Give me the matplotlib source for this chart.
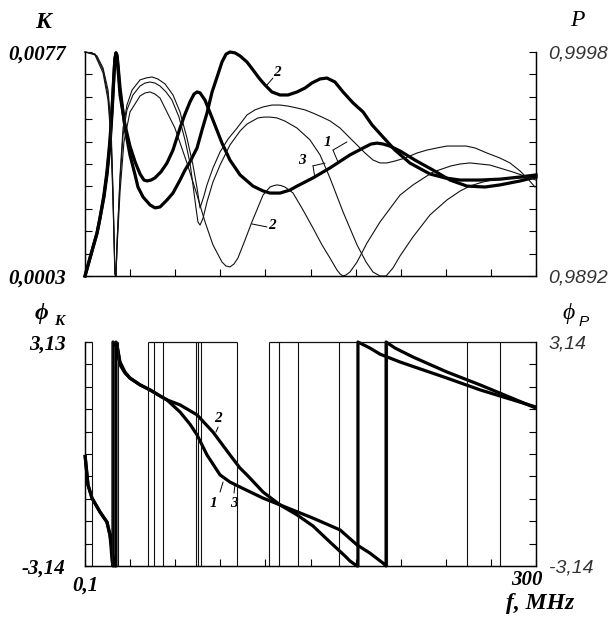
import numpy as np
import matplotlib.pyplot as plt

serif = ['Liberation Serif', 'DejaVu Serif']
sans = ['Liberation Sans', 'DejaVu Sans']

# ---- top panel: K (thick, left axis) and P (thin, right axis) vs f, MHz
f_k2 = [0.1, 3.4, 8.1, 10.1, 12.7, 14.7, 16.7, 18.1, 19.4, 20.0, 20.7, 21.4, 22.0, 23.4,
        26.7, 30.0, 33.4, 35.3, 38.7, 43.3, 46.6, 50.0, 54.6, 58.6, 63.3, 66.6, 69.9,
        74.6, 77.9, 81.2, 84.6, 87.9, 91.2, 93.9, 96.5, 99.9, 103.2, 107.8, 111.8, 115.8,
        119.8, 124.4, 129.8, 135.1, 141.1, 146.4, 151.1, 156.4, 161.0, 166.3, 171.7,
        178.3, 185.0, 191.0, 198.3, 206.2, 216.2, 229.5, 239.5, 249.5, 262.8, 276.1,
        289.4, 300.0]
k2 = [0.00030, 0.00089, 0.00172, 0.00222, 0.00291, 0.00364, 0.00463, 0.00572, 0.00694,
      0.00744, 0.00767, 0.00760, 0.00730, 0.00651, 0.00519, 0.00430, 0.00364, 0.00324,
      0.00291, 0.00265, 0.00255, 0.00258, 0.00281, 0.00304, 0.00347, 0.00380, 0.00407,
      0.00453, 0.00512, 0.00568, 0.00638, 0.00687, 0.00737, 0.00763, 0.00770, 0.00767,
      0.00757, 0.00737, 0.00711, 0.00684, 0.00661, 0.00638, 0.00628, 0.00628, 0.00638,
      0.00651, 0.00668, 0.00681, 0.00684, 0.00671, 0.00638, 0.00602, 0.00572, 0.00529,
      0.00489, 0.00446, 0.00403, 0.00367, 0.00354, 0.00347, 0.00347, 0.00350, 0.00357,
      0.00364]

# curves 1 and 3 coincide for K
f_k13 = [0.1, 3.4, 8.1, 10.1, 12.7, 14.7, 16.7, 18.1, 19.4, 20.0, 20.7, 21.4, 22.0, 23.4,
         26.7, 30.0, 33.4, 36.7, 39.3, 41.3, 44.0, 46.6, 50.6, 54.6, 58.6, 63.3, 66.6,
         69.9, 72.6, 74.6, 76.6, 79.9, 85.2, 91.2, 96.5, 103.2, 111.8, 118.5, 123.1,
         129.8, 136.4, 141.1, 151.7, 163.0, 176.3, 186.3, 190.3, 194.3, 198.3, 202.9,
         209.6, 219.5, 231.5, 242.8, 254.1, 266.1, 276.1, 289.4, 300.0]
k13 = [0.00030, 0.00089, 0.00172, 0.00222, 0.00298, 0.00374, 0.00479, 0.00585, 0.00704,
       0.00750, 0.00767, 0.00753, 0.00717, 0.00628, 0.00529, 0.00459, 0.00407, 0.00367,
       0.00347, 0.00344, 0.00347, 0.00354, 0.00374, 0.00403, 0.00446, 0.00519, 0.00565,
       0.00605, 0.00631, 0.00638, 0.00635, 0.00611, 0.00545, 0.00469, 0.00413, 0.00364,
       0.00327, 0.00311, 0.00304, 0.00304, 0.00314, 0.00327, 0.00354, 0.00387, 0.00430,
       0.00456, 0.00466, 0.00469, 0.00466, 0.00459, 0.00443, 0.00413, 0.00380, 0.00347,
       0.00327, 0.00324, 0.00331, 0.00344, 0.00357]

f_p1 = [0.1, 4.75, 8.1, 12.1, 15.4, 17.4, 18.7, 20.0, 20.7, 21.4, 23.4, 25.4, 28.0, 31.4,
        36.7, 40.7, 44.65, 48.6, 53.3, 58.6, 63.3, 67.9, 71.9, 74.6, 76.6, 79.2, 81.2,
        85.2, 89.9, 95.2, 101.2, 107.8, 113.1, 118.5, 124.4, 129.8, 135.1, 141.1, 146.4,
        151.7, 157.7, 163.0, 169.7, 176.3, 181.0, 186.3, 191.6, 196.3, 200.9, 206.2,
        212.9, 220.9, 227.5, 234.2, 240.8, 247.5, 253.5, 259.4, 267.4, 276.1, 282.7,
        289.4, 294.7, 299.3]
p1 = [0.99980, 0.99975, 0.99961, 0.99904, 0.99800, 0.99635, 0.99327, 0.98939, 0.98920,
      0.99067, 0.99398, 0.99620, 0.99729, 0.99800, 0.99848, 0.99857, 0.99862, 0.99852,
      0.99829, 0.99777, 0.99696, 0.99573, 0.99445, 0.99336, 0.99242, 0.99299, 0.99351,
      0.99431, 0.99507, 0.99568, 0.99620, 0.99682, 0.99706, 0.99720, 0.99729, 0.99729,
      0.99724, 0.99715, 0.99706, 0.99691, 0.99672, 0.99654, 0.99620, 0.99573, 0.99540,
      0.99502, 0.99469, 0.99455, 0.99455, 0.99464, 0.99478, 0.99502, 0.99516, 0.99526,
      0.99535, 0.99535, 0.99535, 0.99526, 0.99502, 0.99478, 0.99455, 0.99417, 0.99379,
      0.99341]

f_p3 = [0.1, 6.75, 12.1, 15.4, 17.4, 18.7, 20.0, 20.7, 21.4, 23.4, 25.4, 28.0, 32.0, 36.7,
        40.0, 43.3, 46.65, 50.0, 54.0, 57.9, 62.6, 66.6, 69.9, 71.9, 73.9, 75.2, 76.6,
        78.6, 81.2, 85.2, 89.9, 96.5, 103.2, 107.8, 115.1, 119.1, 123.1, 127.8, 133.1,
        141.1, 149.7, 156.4, 163.0, 171.7, 181.0, 187.0, 191.6, 196.3, 200.3, 204.9,
        209.6, 218.2, 229.5, 240.8, 249.5, 256.1, 264.8, 274.1, 286.0, 299.3]
p3 = [0.99980, 0.99971, 0.99895, 0.99777, 0.99601, 0.99303, 0.98930, 0.98920, 0.99081,
      0.99374, 0.99587, 0.99706, 0.99777, 0.99819, 0.99833, 0.99838, 0.99833, 0.99819,
      0.99791, 0.99753, 0.99672, 0.99564, 0.99455, 0.99351, 0.99242, 0.99176, 0.99161,
      0.99194, 0.99270, 0.99365, 0.99445, 0.99540, 0.99606, 0.99639, 0.99668, 0.99672,
      0.99672, 0.99668, 0.99653, 0.99620, 0.99564, 0.99493, 0.99384, 0.99223, 0.99067,
      0.98986, 0.98939, 0.98920, 0.98920, 0.98958, 0.99015, 0.99105, 0.99209, 0.99280,
      0.99322, 0.99346, 0.99365, 0.99379, 0.99384, 0.99384]

f_p2 = [0.1, 6.75, 12.1, 15.4, 17.4, 18.7, 20.0, 20.7, 21.4, 23.4, 26.0, 30.0, 36.7, 40.0,
        43.3, 46.65, 50.0, 59.9, 67.9, 74.6, 79.9, 85.2, 91.2, 93.9, 96.5, 99.2, 101.8,
        106.5, 111.1, 118.5, 123.1, 125.8, 127.8, 130.4, 133.1, 138.4, 145.1, 151.7,
        157.7, 163.0, 167.7, 169.7, 171.7, 173.7, 176.3, 181.0, 187.6, 196.3, 209.6,
        218.2, 231.5, 243.5, 249.5, 256.1, 262.8, 269.4, 284.7, 300.0]
p2 = [0.99980, 0.99966, 0.99881, 0.99753, 0.99564, 0.99280, 0.98925, 0.98920, 0.99053,
      0.99318, 0.99554, 0.99696, 0.99772, 0.99786, 0.99791, 0.99781, 0.99762, 0.99620,
      0.99455, 0.99303, 0.99176, 0.99067, 0.98986, 0.98967, 0.98963, 0.98977, 0.99005,
      0.99090, 0.99176, 0.99303, 0.99341, 0.99348, 0.99351, 0.99348, 0.99341, 0.99313,
      0.99232, 0.99147, 0.99067, 0.99005, 0.98948, 0.98930, 0.98920, 0.98925, 0.98939,
      0.98986, 0.99076, 0.99176, 0.99303, 0.99351, 0.99412, 0.99441, 0.99450, 0.99455,
      0.99450, 0.99445, 0.99412, 0.99374]

# ---- bottom panel: phase of K (thick) and phase of P (thin jumps)
f_phk2 = [0.1, 2.1, 4.75, 10.1, 14.7, 16.7, 18.05, 18.7, 20.05, 20.7, 20.7, 22.05, 23.4,
          26.7, 30.0, 36.7, 43.3, 50.0, 54.6, 63.3, 74.6, 85.2, 96.5, 103.2, 107.8, 118.5,
          129.8, 141.1, 151.7, 163.0, 173.0, 176.3, 181.0, 181.6, 181.6, 189.6, 196.3,
          209.6, 240.8, 262.8, 300.0]
phk2 = [-0.03, -0.87, -1.24, -1.63, -1.91, -2.27, -2.64, -2.97, -3.14, -3.14, 3.13, 2.91,
        2.49, 2.26, 2.12, 1.93, 1.79, 1.62, 1.51, 1.37, 1.09, 0.61, -0.03, -0.40, -0.59,
        -1.07, -1.43, -1.71, -2.02, -2.47, -2.86, -3.00, -3.14, -3.14, 3.13, 2.96, 2.79,
        2.57, 2.12, 1.79, 1.31]

f_phk13 = [0.1, 2.1, 4.75, 10.1, 14.7, 16.7, 17.4, 18.05, 18.7, 18.7, 20.7, 22.05, 23.4,
           26.7, 30.0, 36.7, 43.3, 50.0, 54.6, 63.3, 69.9, 74.6, 81.2, 89.9, 96.5, 103.2,
           118.5, 129.8, 151.7, 169.7, 181.0, 189.6, 198.3, 200.3, 200.3, 206.3, 218.2,
           240.8, 262.8, 300.0]
phk13 = [-0.03, -0.87, -1.24, -1.63, -1.91, -2.27, -2.60, -2.97, -3.14, 3.13, 3.05, 2.85,
         2.57, 2.29, 2.12, 1.93, 1.79, 1.62, 1.51, 1.17, 0.83, 0.53, -0.03, -0.59, -0.79,
         -0.93, -1.24, -1.43, -1.80, -2.13, -2.55, -2.78, -3.06, -3.14, 3.13, 2.96, 2.71,
         2.29, 1.93, 1.28]

# frequencies where the phase of P flips between +pi and -pi
p_jumps = [4.75, 18.0, 22.0, 42.0, 46.0, 52.0, 73.9, 75.2, 77.2, 101.2, 122.4, 129.1,
           141.7, 169.0, 200.9, 254.1, 276.0]
# stretches where the phase of P sits at +pi
p_top = [(0.1, 4.75), (18.0, 22.0), (42.0, 101.2), (122.4, 300.0)]


def px(x, y):
    return x / 613, 1 - y / 626


def setup(ax, ylim_l, lab_l, ylim_r, lab_r, pad_l, pad_r):
    ax.set_xlim(0.1, 300)
    ax.set_ylim(*ylim_l)
    ax.set_xticks(np.linspace(0.1, 300, 11))
    ax.set_xticklabels([])
    ax.set_yticks(np.linspace(ylim_l[0], ylim_l[1], 11))
    ax.set_yticklabels([lab_l[0]] + [''] * 9 + [lab_l[1]], family=serif,
                       weight='bold', style='italic', fontsize=15)
    ax.tick_params(direction='in', length=5, width=0.8, pad=pad_l)
    ax.spines['top'].set_visible(False)
    for s in ax.spines.values():
        s.set_linewidth(0.9)
    axr = ax.twinx()
    axr.set_ylim(*ylim_r)
    axr.set_yticks(np.linspace(ylim_r[0], ylim_r[1], 11))
    axr.set_yticklabels([lab_r[0]] + [''] * 9 + [lab_r[1]], family=sans,
                        style='italic', fontsize=14, color='#333333')
    axr.tick_params(direction='in', length=5, width=0.8, pad=pad_r)
    axr.spines['top'].set_visible(False)
    for s in axr.spines.values():
        s.set_linewidth(0.9)
    return axr


fig = plt.figure(figsize=(6.13, 6.26), dpi=100)
ax1 = fig.add_axes([85 / 613, 1 - 276 / 626, 451 / 613, 224 / 626])
ax2 = fig.add_axes([85 / 613, 1 - 566 / 626, 451 / 613, 224 / 626])

ax1r = setup(ax1, (0.0003, 0.0077), ('0,0003', '0,0077'),
             (0.9892, 0.9998), ('0,9892', '0,9998'), 14, 9)
ax2r = setup(ax2, (-3.14, 3.13), ('-3,14', '3,13'),
             (-3.14, 3.14), ('-3,14', '3,14'), 14, 9)

thick = dict(color='black', lw=2.3, solid_joinstyle='round', clip_on=False)
thin = dict(color='#111111', lw=0.8, clip_on=False)

ax1.plot(f_k2, k2, **thick)
ax1.plot(f_k13, k13, **thick)
ax1r.plot(f_p1, p1, **thin)
ax1r.plot(f_p3, p3, **thin)
ax1r.plot(f_p2, p2, **thin)

ax2r.vlines(p_jumps, -3.14, 3.14, color='#111111', lw=0.8)
for a, b in p_top:
    ax2r.hlines(3.14, a, b, color='#111111', lw=0.9, clip_on=False)
ax2.plot(f_phk2, phk2, solid_capstyle='butt', **thick)
ax2.plot(f_phk13, phk13, solid_capstyle='butt', **thick)

# curve numbers with leader lines
lab = dict(family=serif, style='italic', weight='bold', fontsize=11,
           ha='center', va='center')
ld = dict(arrowstyle='-', lw=0.7, color='black', shrinkA=0, shrinkB=0)

ax1.text(127.8, 0.00701, '2', **lab)
ax1.annotate('', xy=(121.1, 0.00661), xytext=(125.1, 0.00684), arrowprops=ld)
ax1.text(124.4, 0.00198, '2', **lab)
ax1.annotate('', xy=(111.1, 0.00202), xytext=(121.1, 0.00192), arrowprops=ld)
ax1.text(161.0, 0.00472, '1', **lab)
ax1.annotate('', xy=(174.3, 0.00473), xytext=(165.0, 0.00446), arrowprops=ld)
ax1.annotate('', xy=(168.3, 0.00407), xytext=(165.0, 0.00446), arrowprops=ld)
ax1.text(144.5, 0.00410, '3', **lab)
ax1.annotate('', xy=(159.7, 0.00403), xytext=(151.7, 0.00394), arrowprops=ld)
ax1.annotate('', xy=(153.0, 0.00354), xytext=(151.7, 0.00394), arrowprops=ld)

ax2.text(88.6, 1.00, '2', **lab)
ax2.annotate('', xy=(87.2, 0.61), xytext=(88.6, 0.75), arrowprops=ld)
ax2.text(85.2, -1.38, '1', **lab)
ax2.annotate('', xy=(91.9, -0.79), xytext=(89.9, -1.07), arrowprops=ld)
ax2.text(99.2, -1.38, '3', **lab)
ax2.annotate('', xy=(99.8, -0.87), xytext=(99.2, -1.10), arrowprops=ld)

# axis names
bi = dict(family=serif, weight='bold', style='italic', ha='center', va='center')
it = dict(family=serif, style='italic', ha='center', va='center')
fig.text(*px(43, 22), 'K', fontsize=17, **bi)
fig.text(*px(577, 20), 'P', fontsize=17, **it)
fig.text(*px(41, 314), 'ϕ', fontsize=17, **bi)
fig.text(*px(59, 321), 'K', fontsize=11, **bi)
fig.text(*px(569, 314), 'ϕ', fontsize=17, **it)
fig.text(*px(584, 322), 'P', fontsize=11, family=sans, style='italic',
         ha='center', va='center')
fig.text(*px(85, 586), '0,1', fontsize=15, **bi)
fig.text(*px(527, 580), '300', fontsize=15, **bi)
fig.text(*px(540, 603), 'f, MHz', fontsize=17, **bi)

fig.savefig('out.png', dpi=100)
